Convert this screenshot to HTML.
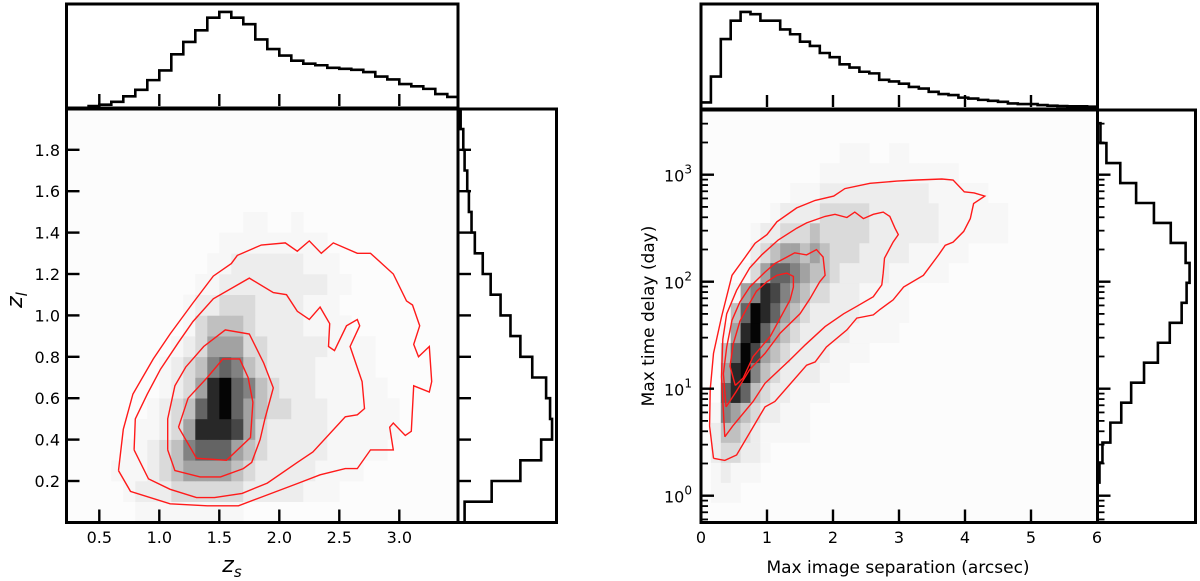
<!DOCTYPE html>
<html><head><meta charset="utf-8"><style>
html,body{margin:0;padding:0;background:#fff;}
svg{display:block;font-family:"DejaVu Sans","Liberation Sans",sans-serif;}
</style></head><body>
<svg id="fig" width="1200" height="581" viewBox="0 0 1200 581" xmlns="http://www.w3.org/2000/svg">
<g id="L"></g>
<g id="R"></g>
</svg>
<script>
// ===== LEFT DATA =====
const zsHistEdges0 = 0.4, zsHistBin = 0.1;
const zsCounts = [0,4,13,30,50,80,110,160,198,234,273,291,273,253,206,176,156,140,131,126,118,115,112,105,91,82,68,61,53,37,28];
const zlCounts = [20,102,189,252,285,279,267,225,189,159,129,99,75,51,41,33,28,20,16,8];
const leftXTicks = [0.5,1.0,1.5,2.0,2.5,3.0];
const leftXTickLabels = ["0.5","1.0","1.5","2.0","2.5","3.0"];
const leftYTicks = [0.2,0.4,0.6,0.8,1.0,1.2,1.4,1.6,1.8];
const leftYTickLabels = ["0.2","0.4","0.6","0.8","1.0","1.2","1.4","1.6","1.8"];
const leftGridX0 = 0.3, leftGridDX = 0.1, leftGridDY = 0.1;
const leftGrid = [
[0,0,0,0,0,.5,.5,.5,.5,.5,.5,.5,.5,.5,0,0,0,0,0,0,0,0,0,0,0,0,0,0,0,0,0],
[0,0,0,0,.5,1,1,1,2,2,2,2,2,2,1,1,1,1,1,.5,.5,.5,0,0,0,0,0,0,0,0,0],
[0,0,0,.5,.5,.5,1,2,3,4,4,4,4,3,2,1,1,1,1,1,.5,.5,.5,.5,0,0,0,0,0,0,0],
[0,0,0,0,.5,.5,1,2,3,5,6,6,6,4,3,2,1,1,1,1,1,.5,.5,.5,.5,.5,0,0,0,0,0],
[0,0,0,0,0,.5,.5,1,2,4,8,8,8,7,4,2,1,1,1,1,1,.5,.5,.5,.5,.5,.5,0,0,0,0],
[0,0,0,0,0,0,.5,1,2,3,6,8,9,6,4,3,2,2,1,1,1,.5,.5,.5,.5,.5,.5,0,0,0,0],
[0,0,0,0,0,0,0,.5,1,2,4,8,9,6,5,3,2,1,1,1,.5,.5,.5,.5,.5,.5,0,0,0,0,0],
[0,0,0,0,0,0,0,.5,1,2,3,5,6,5,3,2,1,1,1,1,.5,.5,.5,.5,.5,0,0,0,0,0,0],
[0,0,0,0,0,0,0,0,.5,1,2,4,4,4,2,2,1,1,1,1,1,.5,.5,.5,.5,0,0,0,0,0,0],
[0,0,0,0,0,0,0,0,0,.5,2,3,3,3,2,1,1,1,1,.5,.5,.5,.5,0,0,0,0,0,0,0,0],
[0,0,0,0,0,0,0,0,0,.5,1,1,2,2,2,1,1,1,1,.5,.5,.5,0,0,0,0,0,0,0,0,0],
[0,0,0,0,0,0,0,0,0,0,.5,.5,1,1,1,1,1,1,1,1,1,.5,.5,0,0,0,0,0,0,0,0],
[0,0,0,0,0,0,0,0,0,0,0,.5,.5,1,1,1,1,1,1,.5,.5,.5,0,0,0,0,0,0,0,0,0],
[0,0,0,0,0,0,0,0,0,0,0,0,.5,.5,.5,.5,.5,.5,.5,.5,.5,0,0,0,0,0,0,0,0,0,0],
[0,0,0,0,0,0,0,0,0,0,0,0,0,0,.5,.5,0,0,.5,0,0,0,0,0,0,0,0,0,0,0,0]
];
const leftContours = [
[[0.66,0.25],[0.76,0.15],[1.09,0.09],[1.40,0.08],[1.66,0.08],[1.84,0.12],[2.16,0.19],[2.34,0.23],[2.55,0.26],[2.65,0.26],[2.76,0.35],[2.95,0.35],[2.92,0.46],[2.95,0.48],[3.05,0.42],[3.10,0.44],[3.12,0.66],[3.25,0.63],[3.27,0.68],[3.25,0.85],[3.16,0.80],[3.12,0.86],[3.17,0.95],[3.11,1.05],[3.06,1.07],[2.95,1.20],[2.76,1.30],[2.65,1.30],[2.45,1.35],[2.35,1.30],[2.25,1.36],[2.15,1.31],[2.05,1.35],[1.85,1.34],[1.65,1.29],[1.60,1.25],[1.45,1.19],[1.28,1.06],[1.09,0.91],[0.95,0.79],[0.78,0.62],[0.70,0.45],[0.66,0.25]],
[[0.79,0.35],[0.91,0.21],[1.09,0.16],[1.31,0.12],[1.46,0.12],[1.69,0.14],[1.90,0.19],[2.15,0.29],[2.28,0.34],[2.55,0.51],[2.65,0.52],[2.71,0.55],[2.69,0.68],[2.59,0.85],[2.67,0.95],[2.65,0.98],[2.56,0.95],[2.46,0.83],[2.41,0.85],[2.42,0.96],[2.34,1.04],[2.25,0.98],[2.15,1.02],[2.06,1.10],[1.95,1.11],[1.75,1.18],[1.45,1.08],[1.28,0.97],[1.16,0.87],[1.01,0.74],[0.90,0.62],[0.80,0.50],[0.79,0.35]],
[[1.07,0.35],[1.13,0.25],[1.34,0.22],[1.51,0.22],[1.70,0.26],[1.77,0.29],[1.84,0.40],[1.88,0.50],[1.95,0.65],[1.87,0.77],[1.75,0.91],[1.55,0.93],[1.37,0.85],[1.22,0.75],[1.13,0.66],[1.07,0.50],[1.07,0.35]],
[[1.16,0.46],[1.31,0.31],[1.56,0.30],[1.76,0.41],[1.78,0.58],[1.74,0.70],[1.67,0.79],[1.53,0.79],[1.40,0.70],[1.24,0.60],[1.16,0.46]]
];
// ===== RIGHT DATA =====
const sepHistBin = 0.15;
const sepCounts = [14,94,210,267,294,287,267,267,240,225,202,189,167,154,132,122,109,104,84,79,72,62,57,47,40,37,29,26,22,19,16,11,9,9,6,4,3,2,2,1];
const logDelayMin = -0.25, logDelayBin = 0.1866;
const delayCounts = [0,0,6,15,39,72,102,141,183,219,255,270,279,267,222,171,117,69,27,9,0];
const rightXTicks = [0,1,2,3,4,5,6];
const rightXTickLabels = ["0","1","2","3","4","5","6"];
const rightYDecades = [0,1,2,3];
const rightGridDX = 0.15;
const rightGrid = [
[0,0,0,0,0,0,0,0,0,0,0,0,0,0,0,0,0,0,0,0,0,0,0,0,0,0,0,0,0,0,0,0,0,0,0,0,0,0,0,0],
[0,.5,.5,.5,0,0,0,0,0,0,0,0,0,0,0,0,0,0,0,0,0,0,0,0,0,0,0,0,0,0,0,0,0,0,0,0,0,0,0,0],
[0,.5,1,.5,.5,.5,0,0,0,0,0,0,0,0,0,0,0,0,0,0,0,0,0,0,0,0,0,0,0,0,0,0,0,0,0,0,0,0,0,0],
[0,1,2,2,1,1,.5,0,0,0,0,0,0,0,0,0,0,0,0,0,0,0,0,0,0,0,0,0,0,0,0,0,0,0,0,0,0,0,0,0],
[0,1,3,3,2,1,.5,.5,.5,.5,.5,0,0,0,0,0,0,0,0,0,0,0,0,0,0,0,0,0,0,0,0,0,0,0,0,0,0,0,0,0],
[0,.5,5,4,3,2,1,1,.5,.5,.5,0,0,0,0,0,0,0,0,0,0,0,0,0,0,0,0,0,0,0,0,0,0,0,0,0,0,0,0,0],
[0,0,6,8,6,3,2,1,1,.5,.5,.5,.5,0,0,0,0,0,0,0,0,0,0,0,0,0,0,0,0,0,0,0,0,0,0,0,0,0,0,0],
[0,0,4,8,9,5,3,2,1,1,1,1,.5,.5,.5,0,0,0,0,0,0,0,0,0,0,0,0,0,0,0,0,0,0,0,0,0,0,0,0,0],
[0,0,3,6,9,7,4,3,2,1,1,1,1,.5,.5,.5,.5,0,0,0,0,0,0,0,0,0,0,0,0,0,0,0,0,0,0,0,0,0,0,0],
[0,0,.5,4,8,9,6,4,3,2,1,1,1,1,1,.5,.5,.5,.5,.5,0,0,0,0,0,0,0,0,0,0,0,0,0,0,0,0,0,0,0,0],
[0,0,0,3,6,9,8,6,4,3,2,1,1,1,1,1,.5,.5,.5,.5,.5,0,0,0,0,0,0,0,0,0,0,0,0,0,0,0,0,0,0,0],
[0,0,0,.5,4,5,8,7,5,4,3,2,2,1,1,1,.5,.5,.5,.5,.5,0,0,0,0,0,0,0,0,0,0,0,0,0,0,0,0,0,0,0],
[0,0,0,0,.5,2,4,6,6,5,4,3,3,2,1,1,1,1,1,.5,.5,.5,.5,.5,.5,0,0,0,0,0,0,0,0,0,0,0,0,0,0,0],
[0,0,0,0,0,1,2,3,4,4,3,4,3,2,2,2,1,1,1,1,1,.5,.5,.5,.5,.5,.5,0,0,0,0,0,0,0,0,0,0,0,0,0],
[0,0,0,0,0,.5,1,1,2,2,2,3,2,2,2,2,2,1,1,1,1,1,1,1,.5,.5,.5,.5,.5,.5,.5,0,0,0,0,0,0,0,0,0],
[0,0,0,0,0,0,0,.5,1,1,1,1,2,2,2,2,2,1,1,1,1,1,1,1,.5,.5,.5,.5,.5,.5,.5,0,0,0,0,0,0,0,0,0],
[0,0,0,0,0,0,0,0,0,.5,.5,.5,1,1,1,1,1,1,1,1,1,1,1,.5,.5,.5,.5,.5,.5,0,0,0,0,0,0,0,0,0,0,0],
[0,0,0,0,0,0,0,0,0,0,0,0,.5,.5,.5,.5,.5,.5,.5,.5,.5,.5,.5,.5,.5,.5,0,0,0,0,0,0,0,0,0,0,0,0,0,0],
[0,0,0,0,0,0,0,0,0,0,0,0,0,0,.5,.5,.5,0,0,.5,.5,0,0,0,0,0,0,0,0,0,0,0,0,0,0,0,0,0,0,0]
];
const rightContours = [
[[0.19,0.35],[0.36,0.33],[0.54,0.38],[0.97,0.83],[1.12,0.88],[1.60,1.22],[1.73,1.25],[1.90,1.39],[2.21,1.55],[2.36,1.66],[2.61,1.69],[2.71,1.74],[2.91,1.83],[3.07,1.95],[3.37,2.06],[3.60,2.25],[3.70,2.34],[3.82,2.37],[3.98,2.47],[4.08,2.59],[4.13,2.73],[4.30,2.80],[4.14,2.83],[3.99,2.84],[3.82,2.95],[3.65,2.96],[3.27,2.95],[2.97,2.94],[2.56,2.92],[2.18,2.87],[2.01,2.80],[1.73,2.76],[1.45,2.69],[1.15,2.56],[1.00,2.44],[0.82,2.36],[0.67,2.23],[0.47,2.06],[0.31,1.67],[0.19,1.33],[0.14,0.99],[0.13,0.65],[0.19,0.35]],
[[0.36,0.55],[0.48,0.65],[0.79,0.88],[0.97,1.05],[1.35,1.27],[1.58,1.41],[1.88,1.58],[2.16,1.70],[2.36,1.77],[2.61,1.86],[2.74,1.97],[2.76,2.08],[2.78,2.22],[2.91,2.37],[2.99,2.44],[2.94,2.50],[2.86,2.61],[2.76,2.65],[2.61,2.63],[2.46,2.59],[2.33,2.65],[2.21,2.60],[2.03,2.63],[1.88,2.61],[1.60,2.55],[1.45,2.50],[1.17,2.39],[0.92,2.25],[0.74,2.13],[0.54,1.92],[0.39,1.70],[0.33,1.46],[0.31,1.11],[0.36,0.55]],
[[0.38,0.83],[0.53,0.97],[0.74,1.18],[0.97,1.33],[1.20,1.52],[1.50,1.70],[1.65,1.84],[1.80,2.00],[1.88,2.06],[1.85,2.23],[1.75,2.30],[1.60,2.25],[1.42,2.27],[1.30,2.23],[1.12,2.17],[0.97,2.09],[0.74,1.95],[0.59,1.81],[0.47,1.64],[0.39,1.39],[0.34,1.14],[0.38,0.83]],
[[0.52,1.03],[0.64,1.10],[0.79,1.30],[1.05,1.49],[1.20,1.66],[1.35,1.83],[1.40,1.95],[1.40,2.05],[1.30,2.08],[1.15,2.06],[1.00,2.00],[0.84,1.91],[0.72,1.78],[0.59,1.63],[0.49,1.42],[0.44,1.21],[0.52,1.03]]
];

// ===== DRAWING =====
const NS = "http://www.w3.org/2000/svg";
function mk(parent, tag, attrs){ const e=document.createElementNS(NS,tag); for(const k in attrs) e.setAttribute(k,attrs[k]); parent.appendChild(e); return e; }
function shade(v){ const tab={0:252,0.5:247,1:237,2:218,3:192,4:162,5:130,6:100,7:70,8:40,9:5}; const g=tab[v]!==undefined?tab[v]:252; return `rgb(${g},${g},${g})`; }

// Left scales
const LX0=66.5, LX1=458, LY0=109, LY1=522.5;
const lx = v => 99.3 + (v-0.5)*120;
const ly = v => 481 - (v-0.2)*207;
const topH = c => 106 - c*(97/300);
const L = document.getElementById('L');

const lbg = mk(L,'rect',{x:LX0,y:LY0,width:LX1-LX0,height:LY1-LY0,fill:shade(0)});


leftGrid.forEach((row,r)=>row.forEach((v,c)=>{
  if(!v) return;
  const x0=leftGridX0+c*leftGridDX, y0=r*leftGridDY;
  const a=Math.max(lx(x0),LX0), b=Math.min(lx(x0+leftGridDX),LX1);
  const cell=mk(L,'rect',{x:a,y:ly(y0+leftGridDY),width:b-a+0.3,height:ly(y0)-ly(y0+leftGridDY)+0.3,fill:shade(v)});
  
  
}));
leftContours.forEach(pts=>{
  const p=mk(L,'polyline',{points:pts.map(q=>lx(q[0]).toFixed(1)+','+ly(q[1]).toFixed(1)).join(' '),fill:'none',stroke:'#ff1a1a','stroke-width':1.4});
  
  
});
{
  let d='M'+lx(zsHistEdges0)+','+topH(0);
  zsCounts.forEach((c,i)=>{ const a=lx(zsHistEdges0+i*zsHistBin), b=Math.min(lx(zsHistEdges0+(i+1)*zsHistBin),LX1); d+=` L${a},${topH(c)} L${b},${topH(c)}`; });
  const p=mk(L,'path',{d:d,fill:'none',stroke:'#000','stroke-width':2.6});
  
  
}
{
  const rx = c => 458 + c*(99/300);
  let d='M'+rx(0)+','+ly(0);
  zlCounts.forEach((c,i)=>{ const a=ly(i*0.1), b=Math.max(ly((i+1)*0.1),LY0); d+=` L${rx(c)},${a} L${rx(c)},${b}`; });
  const p=mk(L,'path',{d:d,fill:'none',stroke:'#000','stroke-width':2.6});
  
  
}
[[LX0,LY0,LX1-LX0,LY1-LY0,'left-main-frame'],[LX0,4,LX1-LX0,104,'left-top-frame'],[458,LY0,98.5,LY1-LY0,'left-side-frame']].forEach(f=>{
  const r=mk(L,'rect',{x:f[0],y:f[1],width:f[2],height:f[3],fill:'none',stroke:'#000','stroke-width':3});
  
  
});
leftXTicks.forEach((t,i)=>{
  const a=mk(L,'line',{x1:lx(t),x2:lx(t),y1:LY1,y2:LY1-13,stroke:'#000','stroke-width':2.4});
  
  
  const b=mk(L,'line',{x1:lx(t),x2:lx(t),y1:106,y2:94,stroke:'#000','stroke-width':2.4});
  
  
  const tx=mk(L,'text',{x:lx(t),y:543,'font-size':16,'text-anchor':'middle',fill:'#000'});
  tx.textContent=leftXTickLabels[i];
  
  
});
leftYTicks.forEach((t,i)=>{
  const a=mk(L,'line',{x1:LX0,x2:LX0+13,y1:ly(t),y2:ly(t),stroke:'#000','stroke-width':2.4});
  
  
  const b=mk(L,'line',{x1:458,x2:471,y1:ly(t),y2:ly(t),stroke:'#000','stroke-width':2.4});
  
  
  const tx=mk(L,'text',{x:60,y:ly(t)+6,'font-size':16,'text-anchor':'end',fill:'#000'});
  tx.textContent=leftYTickLabels[i];
  
  
});
{
  const xl=mk(L,'text',{x:232,y:572,'font-size':22,'font-style':'italic','text-anchor':'middle'});
  xl.innerHTML='z<tspan font-size="15" dy="5">s</tspan>';
  
  
  const yl=mk(L,'text',{x:0,y:0,'font-size':22,'font-style':'italic','text-anchor':'middle',transform:'translate(22,300) rotate(-90)'});
  yl.innerHTML='z<tspan font-size="15" dy="5">l</tspan>';
  
  
}

// Right scales
const RX0=701, RX1=1097.5, RY0=110, RY1=522.5;
const rxs = v => 701 + v*66;
const rys = lg => 495.7 - lg*107;
const R = document.getElementById('R');
const rbg = mk(R,'rect',{x:RX0,y:RY0,width:RX1-RX0,height:RY1-RY0,fill:shade(0)});


rightGrid.forEach((row,r)=>row.forEach((v,c)=>{
  if(!v) return;
  const x0=c*rightGridDX, l0=logDelayMin+r*logDelayBin;
  const t=Math.max(rys(l0+logDelayBin),RY0), bo=Math.min(rys(l0),RY1);
  const cell=mk(R,'rect',{x:rxs(x0),y:t,width:rxs(x0+rightGridDX)-rxs(x0)+0.3,height:bo-t+0.3,fill:shade(v)});
  
  
}));
rightContours.forEach(pts=>{
  const p=mk(R,'polyline',{points:pts.map(q=>rxs(q[0]).toFixed(1)+','+rys(q[1]).toFixed(1)).join(' '),fill:'none',stroke:'#ff1a1a','stroke-width':1.4});
  
  
});
{
  const th = c => 107 - c*(97/300);
  let d='M'+rxs(0)+','+th(0);
  sepCounts.forEach((c,i)=>{ d+=` L${rxs(i*sepHistBin)},${th(c)} L${rxs((i+1)*sepHistBin)},${th(c)}`; });
  const p=mk(R,'path',{d:d,fill:'none',stroke:'#000','stroke-width':2.6});
  
  
}
{
  const sx = c => 1097.5 + c*(99/300);
  let d='M'+sx(0)+','+rys(logDelayMin);
  delayCounts.forEach((c,i)=>{ const a=Math.min(rys(logDelayMin+i*logDelayBin),RY1), b=Math.max(rys(logDelayMin+(i+1)*logDelayBin),RY0); d+=` L${sx(c)},${a} L${sx(c)},${b}`; });
  const p=mk(R,'path',{d:d,fill:'none',stroke:'#000','stroke-width':2.6});
  
  
}
[[RX0,RY0,RX1-RX0,RY1-RY0,'right-main-frame'],[RX0,4,RX1-RX0,105,'right-top-frame'],[RX1,RY0,98,RY1-RY0,'right-side-frame']].forEach(f=>{
  const r=mk(R,'rect',{x:f[0],y:f[1],width:f[2],height:f[3],fill:'none',stroke:'#000','stroke-width':3});
  
  
});
rightXTicks.forEach((t,i)=>{
  if(t>0 && t<6){
    const a=mk(R,'line',{x1:rxs(t),x2:rxs(t),y1:RY1,y2:RY1-13,stroke:'#000','stroke-width':2.4});
    
    
    const b=mk(R,'line',{x1:rxs(t),x2:rxs(t),y1:107,y2:95,stroke:'#000','stroke-width':2.4});
    
    
  }
  const tx=mk(R,'text',{x:rxs(t),y:543,'font-size':16,'text-anchor':'middle'});
  tx.textContent=rightXTickLabels[i];
  
  
});
for(let dec=-1; dec<=3; dec++){
  for(let m=1;m<=9;m++){
    const lg=dec+Math.log10(m);
    const y=rys(lg);
    if(y<RY0+2||y>RY1-2) continue;
    const len=m===1?13:7;
    const a=mk(R,'line',{x1:RX0,x2:RX0+len,y1:y,y2:y,stroke:'#000','stroke-width':m===1?2.4:1.8});
    
    
    const b=mk(R,'line',{x1:RX1,x2:RX1+len,y1:y,y2:y,stroke:'#000','stroke-width':m===1?2.4:1.8});
    
    
  }
}
rightYDecades.forEach(d=>{
  const tx=mk(R,'text',{x:692,y:rys(d)+7,'font-size':16,'text-anchor':'end'});
  tx.innerHTML='10<tspan font-size="12" dy="-8">'+d+'</tspan>';
  
  
});
{
  const xl=mk(R,'text',{x:898,y:573,'font-size':17,'text-anchor':'middle'});
  xl.textContent='Max image separation (arcsec)';
  
  
  const yl=mk(R,'text',{x:0,y:0,'font-size':17,'text-anchor':'middle',transform:'translate(654,316) rotate(-90)'});
  yl.textContent='Max time delay (day)';
  
  
}
</script>
</body></html>
